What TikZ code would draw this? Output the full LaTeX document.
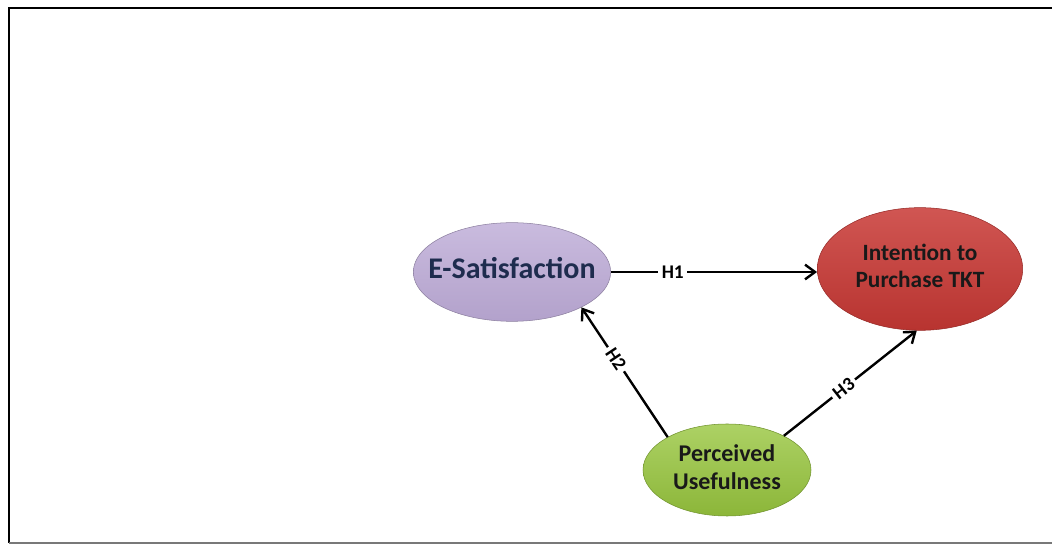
\documentclass[tikz,border=0pt]{standalone}
\usepackage{fontspec}
\setmainfont{Carlito}
\usepackage{xcolor}
\usepackage{tikz}
\usetikzlibrary{arrows.meta,positioning,shapes.geometric}
\definecolor{esfill}{RGB}{188,170,214}
\definecolor{intfill}{RGB}{200,56,52}
\definecolor{pufill}{RGB}{152,198,62}
\definecolor{esnavy}{RGB}{30,44,78}
\definecolor{framegray}{RGB}{120,120,120}
\newcommand{\ctext}[1]{\makebox[0pt]{\begin{tabular}{@{}c@{}}#1\end{tabular}}}
\tikzset{
  cons/.style  ={ellipse, inner sep=0pt, align=center, font=\bfseries},
  hyp/.style   ={-{Straight Barb[length=7.5pt,width=11pt]}, line width=1.8pt, draw=black},
  hlab/.style  ={fill=white, inner sep=2.5pt, font=\fontsize{14.5}{16}\selectfont\bfseries}
}
\begin{document}
\begin{tikzpicture}[x=0.75pt, y=0.75pt]
\useasboundingbox (0,0) rectangle (1052,545);
% frame
\draw[line width=2.2pt] (9,2) -- (9,537) -- (1052,537);
\draw[framegray, line width=1.2pt] (9,2) -- (1052,2);
% constructs
\node[cons, minimum width=148pt, minimum height=74pt, draw=esfill!75!black,
  top color=esfill!80!white, bottom color=esfill!95!black, text=esnavy,
  font=\fontsize{22.5}{24}\selectfont\bfseries] (es) at (512,273)
  {\ctext{E-Satisfaction}};
\node[cons, minimum width=154pt, minimum height=92pt, draw=intfill!75!black,
  top color=intfill!85!white, bottom color=intfill!92!black, text=black!90,
  font=\fontsize{17.5}{20}\selectfont\bfseries] (int) at (920,276)
  {\ctext{Intention to\\Purchase TKT}};
\node[cons, minimum width=126pt, minimum height=69pt, draw=pufill!75!black,
  top color=pufill!80!white, bottom color=pufill!92!black, text=black!90,
  font=\fontsize{18}{21}\selectfont\bfseries] (pu) at (727,75)
  {\ctext{Perceived\\Usefulness}};
% hypotheses
\draw[hyp] (es.east) -- (es.east -| int.west) node[hlab, pos=0.3] (h1) {H1};
\draw[hyp] (pu.151) -- (es.-27) node[hlab, pos=0.6, sloped] (h2) {H2};
\draw[hyp] (pu.31) -- (int.267) node[hlab, pos=0.45, sloped] (h3) {H3};
\end{tikzpicture}
\end{document}
